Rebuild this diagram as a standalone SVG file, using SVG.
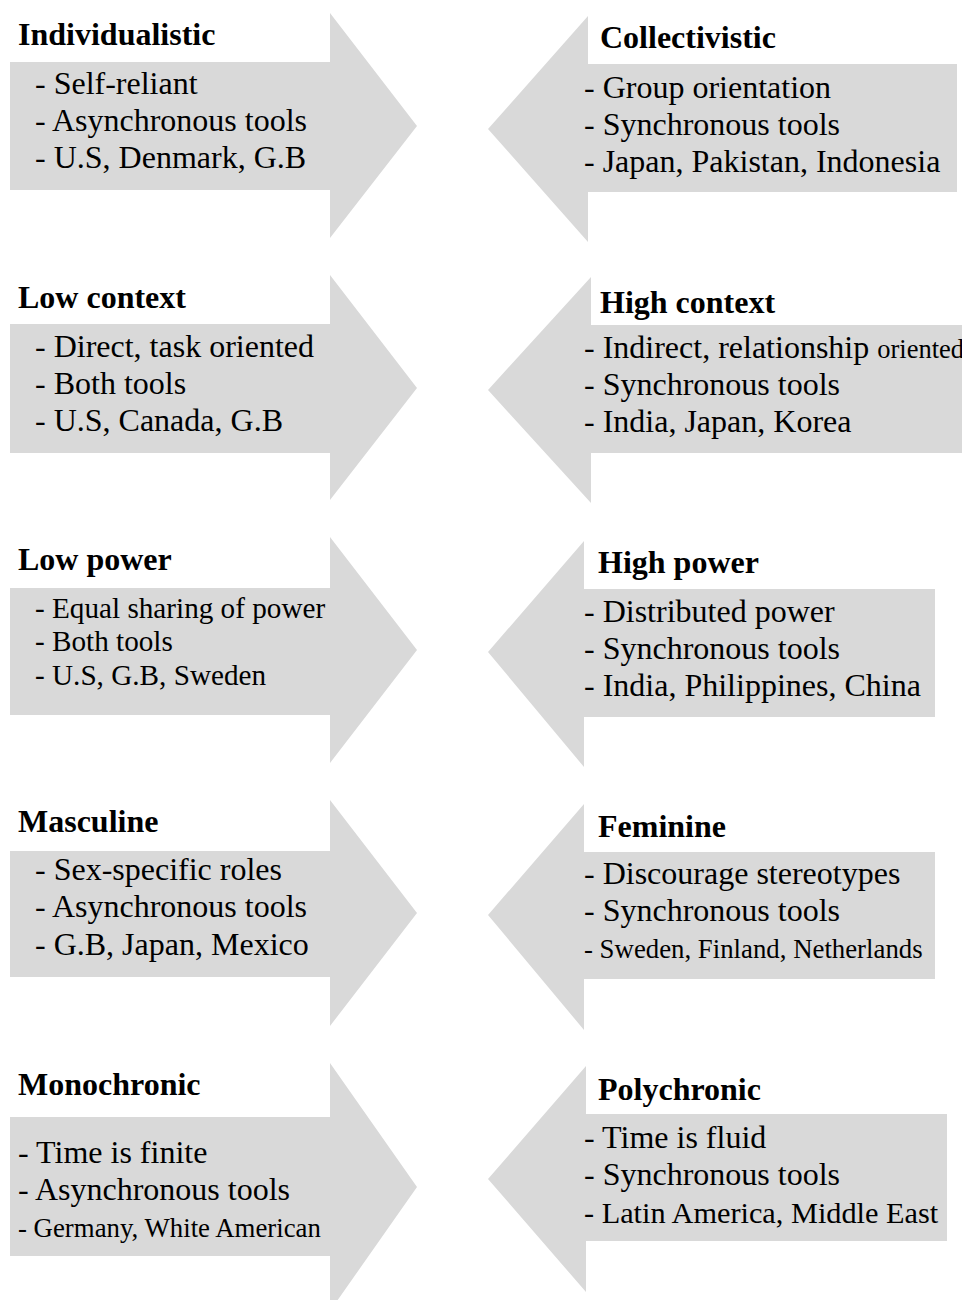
<svg xmlns="http://www.w3.org/2000/svg" width="962" height="1300" viewBox="0 0 962 1300">
  <style>
    .arrow { fill: #d9d9d9; stroke: none; }
    .title { font-family: "Liberation Serif", "Times New Roman", serif; font-weight: bold; font-size: 32px; fill: #000; }
    .body { font-family: "Liberation Serif", "Times New Roman", serif; font-size: 32px; fill: #000; }
    .mid { font-size: 29.2px; }
    .narrow { font-size: 30.3px; }
    .small { font-size: 26.8px; }
    .tiny { font-size: 26.5px; }
  </style>
  <rect width="962" height="1300" fill="#ffffff"/>

  <!-- Individualistic (points right) -->
  <g id="individualistic">
    <path class="arrow" d="M10,62 H330 V13 L417,126 L330,238 V190 H10 Z"/>
    <text class="title" x="18" y="45">Individualistic</text>
    <text class="body" x="35" y="94">- Self-reliant</text>
    <text class="body" x="35" y="131">- Asynchronous tools</text>
    <text class="body" x="35" y="168">- U.S, Denmark, G.B</text>
  </g>

  <!-- Collectivistic (points left) -->
  <g id="collectivistic">
    <path class="arrow" d="M957,64 H588 V16 L488,129 L588,242 V192 H957 Z"/>
    <text class="title" x="600" y="48">Collectivistic</text>
    <text class="body" x="584" y="98">- Group orientation</text>
    <text class="body" x="584" y="135">- Synchronous tools</text>
    <text class="body" x="584" y="172">- Japan, Pakistan, Indonesia</text>
  </g>

  <!-- Low context -->
  <g id="low-context">
    <path class="arrow" d="M10,324 H330 V275 L417,388 L330,500 V453 H10 Z"/>
    <text class="title" x="18" y="308">Low context</text>
    <text class="body" x="35" y="357">- Direct, task oriented</text>
    <text class="body" x="35" y="394">- Both tools</text>
    <text class="body" x="35" y="431">- U.S, Canada, G.B</text>
  </g>

  <!-- High context -->
  <g id="high-context">
    <path class="arrow" d="M962,325 H591 V277 L488,390 L591,503 V453 H962 Z"/>
    <text class="title" x="600" y="313">High context</text>
    <text class="body" x="584" y="358">- Indirect, relationship <tspan class="tiny">oriented</tspan></text>
    <text class="body" x="584" y="395">- Synchronous tools</text>
    <text class="body" x="584" y="432">- India, Japan, Korea</text>
  </g>

  <!-- Low power -->
  <g id="low-power">
    <path class="arrow" d="M10,588 H330 V537 L417,650 L330,763 V715 H10 Z"/>
    <text class="title" x="18" y="570">Low power</text>
    <text class="body mid" x="35" y="618">- Equal sharing of power</text>
    <text class="body mid" x="35" y="651">- Both tools</text>
    <text class="body mid" x="35" y="685">- U.S, G.B, Sweden</text>
  </g>

  <!-- High power -->
  <g id="high-power">
    <path class="arrow" d="M935,589 H584 V541 L488,652 L584,767 V717 H935 Z"/>
    <text class="title" x="598" y="573">High power</text>
    <text class="body" x="584" y="622">- Distributed power</text>
    <text class="body" x="584" y="659">- Synchronous tools</text>
    <text class="body" x="584" y="696">- India, Philippines, China</text>
  </g>

  <!-- Masculine -->
  <g id="masculine">
    <path class="arrow" d="M10,851 H330 V800 L417,913 L330,1026 V977 H10 Z"/>
    <text class="title" x="18" y="832">Masculine</text>
    <text class="body" x="35" y="880">- Sex-specific roles</text>
    <text class="body" x="35" y="917">- Asynchronous tools</text>
    <text class="body" x="35" y="955">- G.B, Japan, Mexico</text>
  </g>

  <!-- Feminine -->
  <g id="feminine">
    <path class="arrow" d="M935,852 H584 V804 L488,915 L584,1030 V979 H935 Z"/>
    <text class="title" x="598" y="837">Feminine</text>
    <text class="body" x="584" y="884">- Discourage stereotypes</text>
    <text class="body" x="584" y="921">- Synchronous tools</text>
    <text class="body small" x="584" y="958">- Sweden, Finland, Netherlands</text>
  </g>

  <!-- Monochronic -->
  <g id="monochronic">
    <path class="arrow" d="M10,1117 H330 V1063 L417,1187 L330,1311 V1256 H10 Z"/>
    <text class="title" x="18" y="1095">Monochronic</text>
    <text class="body" x="18" y="1163">- Time is finite</text>
    <text class="body" x="18" y="1200">- Asynchronous tools</text>
    <text class="body small" x="18" y="1237">- Germany, White American</text>
  </g>

  <!-- Polychronic -->
  <g id="polychronic">
    <path class="arrow" d="M947,1114 H586 V1066 L488,1179 L586,1292 V1241 H947 Z"/>
    <text class="title" x="598" y="1100">Polychronic</text>
    <text class="body" x="584" y="1148">- Time is fluid</text>
    <text class="body" x="584" y="1185">- Synchronous tools</text>
    <text class="body narrow" x="584" y="1223">- Latin America, Middle East</text>
  </g>

  <!-- no connectors: the arrows themselves carry the direction -->
  <g id="connectors"/>
</svg>
